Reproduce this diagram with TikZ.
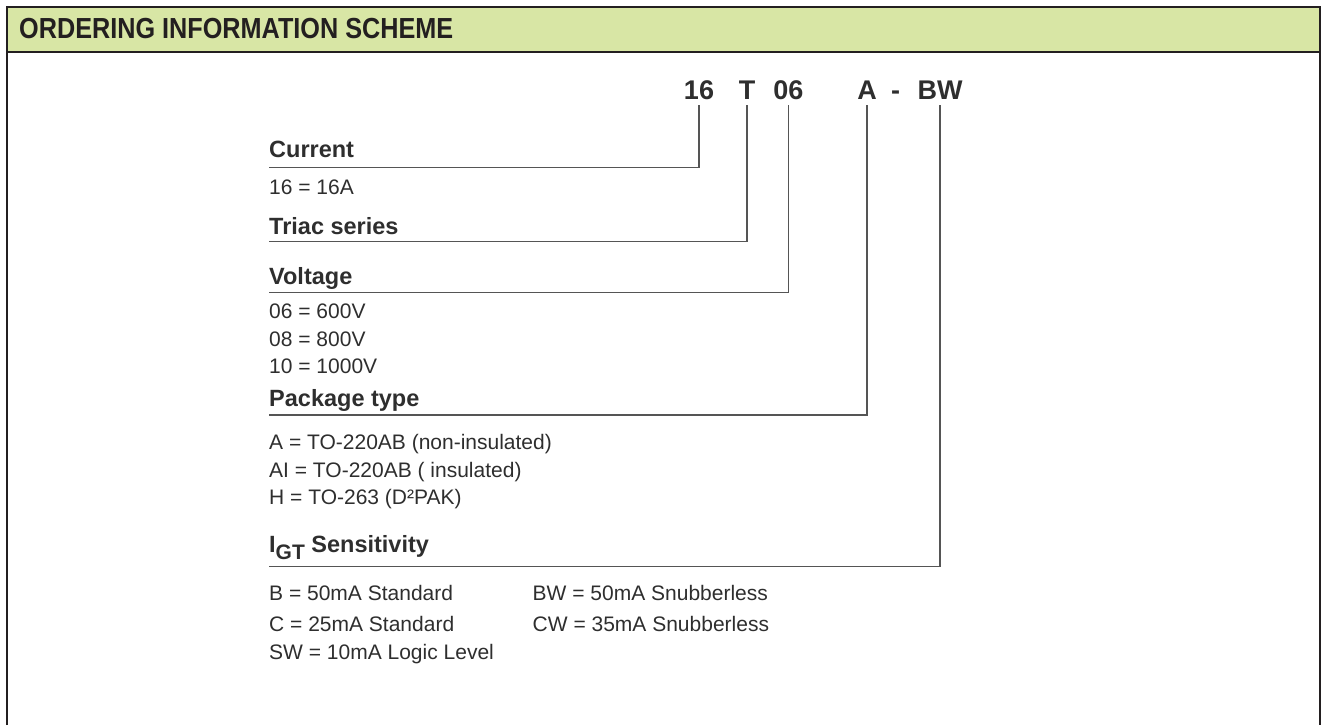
\documentclass[tikz,border=0pt]{standalone}
\usepackage{fontspec}
\setsansfont{Liberation Sans}
\usepackage{graphicx}
\definecolor{headerColor}{HTML}{D8E6A5}
\definecolor{frameColor}{HTML}{231F20}
\definecolor{textColor}{HTML}{2E2E2E}
\definecolor{leaderColor}{HTML}{555555}
\begin{document}
\begin{tikzpicture}[%
    x=1pt,y=-1pt,every node/.style={font=\sffamily,text=textColor,inner sep=0pt}]
    \tikzstyle{title}=[anchor=base west,font=\sffamily\bfseries\fontsize{29}{32}\selectfont,text=frameColor]
    \tikzstyle{code}=[anchor=base,font=\sffamily\bfseries\fontsize{27}{30}\selectfont]
    \tikzstyle{heading}=[anchor=base west,font=\sffamily\bfseries\fontsize{23.5}{27}\selectfont]
    \tikzstyle{entry}=[anchor=base west,font=\sffamily\fontsize{21}{24}\selectfont]
    \tikzstyle{leader}=[draw=leaderColor,line width=1.3pt]
    \useasboundingbox (0,0) rectangle (1321,725);
    % Frame and header
    \fill[headerColor] (6.8,7.3) rectangle (1320,52.3);
    \draw[frameColor,line width=2pt] (6.8,725) -- (6.8,7.3) -- (1320,7.3) -- (1320,725);
    \draw[frameColor,line width=2pt] (6.8,52.3) -- (1320,52.3);
    \node (title) [title] at (19,39) {\scalebox{0.87}[1]{ORDERING INFORMATION SCHEME}};
    % Part number
    \node (c16) [code] at (699,99.3)   {16};
    \node (cT) [code] at (747,99.3)    {T};
    \node (c06) [code] at (788.3,99.3) {06};
    \node (cA) [code] at (867,99.3)    {A};
    \node (cdash) [code] at (895.7,99.3) {-};
    \node (cBW) [code] at (940,99.3)   {BW};
    % Fields
    \node (current) [heading] at (269,157) {Current};
    \node (current16) [entry] at (269,194) {16 = 16A};
    \node (triac) [heading] at (269,234) {Triac series};
    \node (voltage) [heading] at (269,284) {Voltage};
    \node (volt06) [entry] at (269,318) {06 = 600V};
    \node (volt08) [entry] at (269,346) {08 = 800V};
    \node (volt10) [entry] at (269,373) {10 = 1000V};
    \node (package) [heading] at (269,406) {Package type};
    \node (pkgA) [entry] at (269,449) {A = TO-220AB (non-insulated)};
    \node (pkgAI) [entry] at (269,477) {AI = TO-220AB ( insulated)};
    \node (pkgH) [entry] at (269,504) {H = TO-263 (D²PAK)};
    \node (igt) [heading] at (269,552)
          {I\raisebox{-7pt}{\fontsize{21}{23}\selectfont GT} Sensitivity};
    \node (igtB) [entry] at (269,600) {B = 50mA Standard};
    \node (igtC) [entry] at (269,631) {C = 25mA Standard};
    \node (igtSW) [entry] at (269,659) {SW = 10mA Logic Level};
    \node (igtBW) [entry] at (532.5,600) {BW = 50mA Snubberless};
    \node (igtCW) [entry] at (532.5,631) {CW = 35mA Snubberless};
    % Leader ends
    \coordinate (currentEnd) at (269,167.7);
    \coordinate (triacEnd) at (269,241.7);
    \coordinate (voltageEnd) at (269,292.7);
    \coordinate (packageEnd) at (269,415);
    \coordinate (igtEnd) at (269,566.7);
    % Leaders
    \draw [leader] ([yshift=-5.7pt]c16.base) |- (currentEnd);
    \draw [leader] ([yshift=-5.7pt]cT.base) |- (triacEnd);
    \draw [leader] ([yshift=-5.7pt]c06.base) |- (voltageEnd);
    \draw [leader] ([yshift=-5.7pt]cA.base) |- (packageEnd);
    \draw [leader] ([yshift=-5.7pt]cBW.base) |- (igtEnd);
  \end{tikzpicture}
\end{document}
